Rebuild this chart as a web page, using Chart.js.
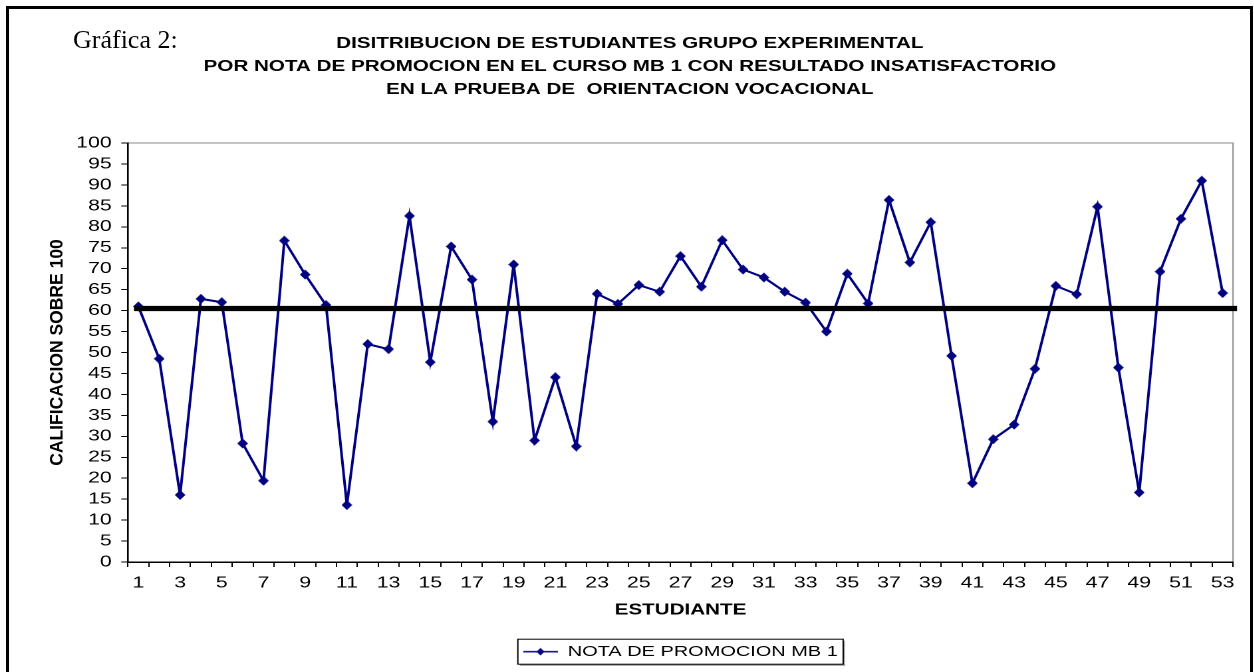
<!DOCTYPE html>
<html>
<head>
<meta charset="utf-8">
<script src="https://cdn.jsdelivr.net/npm/chart.js@4.4.1/dist/chart.umd.min.js"></script>
<style>
  html, body { margin: 0; padding: 0; background: #fff; overflow: hidden; }
  #page { position: relative; width: 1254px; height: 672px; overflow: hidden; background: #fff; }
  /* the chart picture in the reference is stretched sideways, so the canvas is too */
  #wrap { position: absolute; left: 0; top: 0; width: 943px; height: 672px; transform: scaleX(1.33); transform-origin: 0 0; }
  #frame { position: absolute; left: 6px; top: 6px; width: 1241px; height: 700px; border: 3px solid #000; pointer-events: none; }
  #tag { position: absolute; left: 73px; top: 27px; font: 26px/26px "Liberation Serif", "Times New Roman", serif; color: #000; }
</style>
</head>
<body>
<div id="page">
  <div id="wrap"><canvas id="chart" width="943" height="672"></canvas></div>
  <div id="frame"></div>
  <div id="tag">Gráfica 2:</div>
</div>
<script>
const STUDENTS = [1, 2, 3, 4, 5, 6, 7, 8, 9, 10, 11, 12, 13, 14, 15, 16, 17, 18, 19, 20,
  21, 22, 23, 24, 25, 26, 27, 28, 29, 30, 31, 32, 33, 34, 35, 36, 37, 38, 39, 40,
  41, 42, 43, 44, 45, 46, 47, 48, 49, 50, 51, 52, 53];

const NOTA_MB1 = [61, 48.5, 16, 62.8, 62, 28.3, 19.4, 76.7, 68.6, 61.3,
  13.6, 52, 50.8, 82.6, 47.7, 75.3, 67.4, 33.5, 71, 29,
  44.1, 27.6, 64, 61.6, 66.1, 64.5, 73, 65.7, 76.8, 69.8,
  67.9, 64.5, 61.9, 55, 68.8, 61.7, 86.4, 71.5, 81.1, 49.2,
  18.8, 29.3, 32.8, 46.1, 65.9, 63.9, 84.8, 46.4, 16.6, 69.3,
  81.9, 91, 64.2];

const SERIES_LABEL = "NOTA DE PROMOCION MB 1";
const PASS_MARK = 60.5;
const Y_MIN = 0, Y_MAX = 100, Y_STEP = 5;

const TITLE_LINES = [
  "DISITRIBUCION DE ESTUDIANTES GRUPO EXPERIMENTAL",
  "POR NOTA DE PROMOCION EN EL CURSO MB 1 CON RESULTADO INSATISFACTORIO",
  "EN LA PRUEBA DE  ORIENTACION VOCACIONAL"
];
const X_TITLE = "ESTUDIANTE";
const Y_TITLE = "CALIFICACION SOBRE 100";

const NAVY = "#000080";

Chart.defaults.font.family = '"Liberation Sans", Arial, sans-serif';
Chart.defaults.color = "#000";

// small images drawn at 4x so markers stay sharp on the 2x canvas
function makeImage(w, h, paint) {
  const k = 4;
  const c = document.createElement("canvas");
  c.width = w * k;
  c.height = h * k;
  const g = c.getContext("2d");
  g.scale(k, k);
  paint(g);
  const img = new Image();
  img.width = w;
  img.height = h;
  return new Promise(resolve => {
    img.onload = () => resolve(img);
    img.src = c.toDataURL();
  });
}

const diamond = makeImage(8, 10, g => {
  g.fillStyle = NAVY;
  g.beginPath();
  g.moveTo(4, 0); g.lineTo(8, 5); g.lineTo(4, 10); g.lineTo(0, 5);
  g.closePath();
  g.fill();
});

const legendMark = makeImage(26, 8, g => {
  g.strokeStyle = NAVY;
  g.lineWidth = 1.5;
  g.beginPath();
  g.moveTo(0, 4); g.lineTo(26, 4);
  g.stroke();
  g.fillStyle = NAVY;
  g.beginPath();
  g.moveTo(13, 0.2); g.lineTo(16, 4); g.lineTo(13, 7.8); g.lineTo(10, 4);
  g.closePath();
  g.fill();
});

// grey top and right edges of the plot area
const plotFrame = {
  id: "plotFrame",
  beforeDraw(chart) {
    const { ctx, chartArea: a } = chart;
    ctx.save();
    ctx.strokeStyle = "#a0a0a0";
    ctx.lineWidth = 1.3;
    ctx.beginPath();
    ctx.moveTo(a.left, a.top);
    ctx.lineTo(a.right, a.top);
    ctx.lineTo(a.right, a.bottom);
    ctx.stroke();
    ctx.restore();
  }
};

// y title, drawn narrower across its height like the reference
const yTitle = {
  id: "yTitle",
  afterDraw(chart) {
    const { ctx, chartArea: a } = chart;
    ctx.save();
    ctx.translate(42.9, (a.top + a.bottom) / 2);
    ctx.rotate(-Math.PI / 2);
    ctx.scale(1, 0.8);
    ctx.font = 'bold 17.5px "Liberation Sans", Arial, sans-serif';
    ctx.fillStyle = "#000";
    ctx.textAlign = "center";
    ctx.textBaseline = "middle";
    ctx.fillText(Y_TITLE, 0, 0);
    ctx.restore();
  }
};

// thick black line at the pass mark
const passLine = {
  id: "passLine",
  afterDatasetsDraw(chart) {
    const { ctx, chartArea: a } = chart;
    const y = chart.scales.y.getPixelForValue(PASS_MARK);
    ctx.save();
    ctx.strokeStyle = "#000";
    ctx.lineWidth = 5.3;
    ctx.beginPath();
    ctx.moveTo(a.left + 4.6, y);
    ctx.lineTo(a.right + 3, y);
    ctx.stroke();
    ctx.restore();
  }
};

// box with a small shadow round the legend
const legendBox = {
  id: "legendBox",
  afterDraw(chart) {
    const hb = chart.legend.legendHitBoxes[0];
    if (!hb) return;
    const { ctx } = chart;
    const x = hb.left - 4, y = hb.top - 5;
    const w = hb.width + 8, h = hb.height + 10;
    ctx.save();
    ctx.fillStyle = "#9a9a9a";
    ctx.fillRect(x + 1.5, y + h, w, 1.6);
    ctx.fillRect(x + w, y + 1.5, 1.3, h);
    ctx.strokeStyle = "#000";
    ctx.lineWidth = 1;
    ctx.strokeRect(x, y, w, h);
    ctx.restore();
  }
};

Promise.all([diamond, legendMark]).then(([dot, mark]) => {
  const ctx = document.getElementById("chart").getContext("2d");
  new Chart(ctx, {
    type: "line",
    data: {
      labels: STUDENTS,
      datasets: [{
        label: SERIES_LABEL,
        data: NOTA_MB1,
        borderColor: NAVY,
        backgroundColor: NAVY,
        borderWidth: 2,
        pointStyle: dot,
        pointRadius: 4,
        pointHoverRadius: 4,
        tension: 0,
        fill: false
      }]
    },
    options: {
      responsive: false,
      animation: false,
      devicePixelRatio: 2,
      events: [],
      layout: { padding: { left: 20, right: 15.9, top: 0, bottom: 2.8 } },
      plugins: {
        title: {
          display: true,
          text: TITLE_LINES,
          color: "#000",
          font: { size: 15.5, weight: "bold", lineHeight: 23 / 15.5 },
          padding: { top: 32, bottom: 42 }
        },
        legend: {
          position: "bottom",
          fullSize: false,
          labels: {
            usePointStyle: true,
            pointStyle: mark,
            pointStyleWidth: 26,
            color: "#000",
            font: { size: 15 },
            padding: 24.7
          }
        },
        tooltip: { enabled: false }
      },
      scales: {
        x: {
          offset: true,
          grid: { offset: true, drawOnChartArea: false, color: "#000", tickLength: 5, lineWidth: 1 },
          border: { color: "#000", width: 1.5 },
          ticks: {
            autoSkip: false,
            maxRotation: 0,
            minRotation: 0,
            color: "#000",
            font: { size: 16 },
            padding: 6.5,
            callback(value, index) {
              return index % 2 === 0 ? this.getLabelForValue(value) : "";
            }
          },
          title: {
            display: true,
            text: X_TITLE,
            color: "#000",
            font: { size: 15.5, weight: "bold" },
            padding: { top: 0, bottom: 0 }
          },
          afterFit(scale) { scale.height = 57.5; }
        },
        y: {
          min: Y_MIN,
          max: Y_MAX,
          ticks: { stepSize: Y_STEP, autoSkip: false, color: "#000", font: { size: 16 }, padding: 7.2 },
          grid: { drawOnChartArea: false, color: "#000", tickLength: 5 },
          border: { color: "#000", width: 1.3 },
          title: { display: false },
          afterFit(scale) { scale.width = 76.2; }
        }
      }
    },
    plugins: [plotFrame, passLine, legendBox, yTitle]
  });
});
</script>
</body>
</html>
